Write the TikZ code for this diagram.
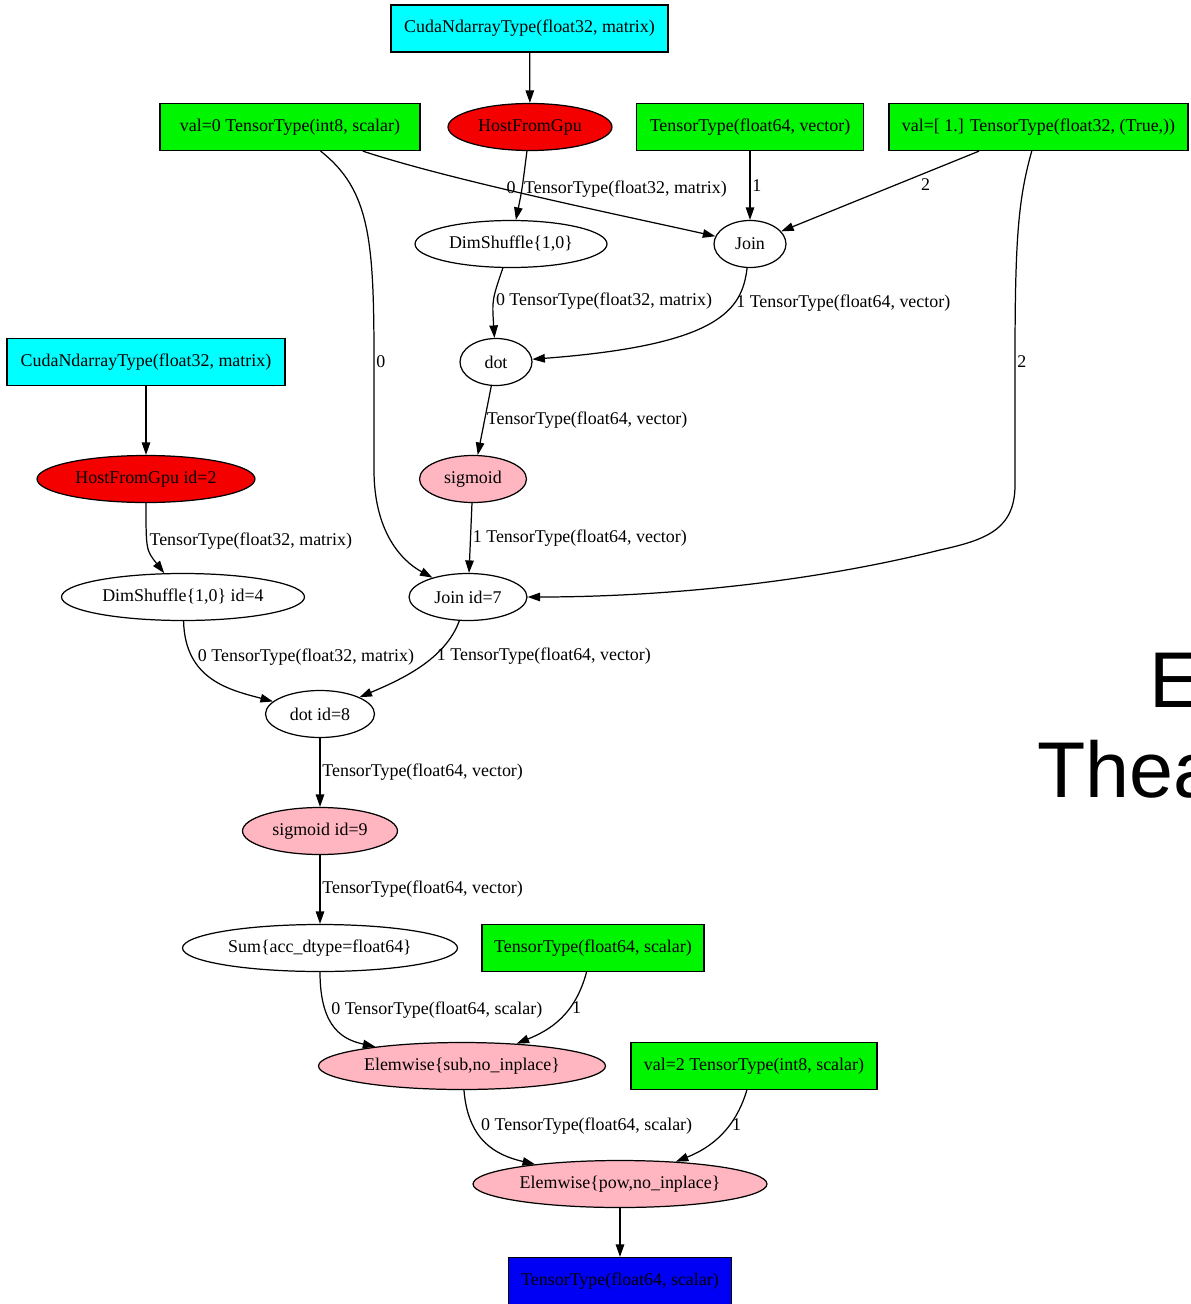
\documentclass[tikz,border=0pt]{standalone}
\usepackage{fontspec}
\setmainfont{Liberation Serif}
\newfontfamily\slidefont{Liberation Sans}
\usepackage{tikz}
\usetikzlibrary{arrows.meta,shapes.geometric}

\definecolor{gvcyan}{RGB}{0,255,255}
\definecolor{gvgreen}{RGB}{0,245,0}
\definecolor{gvred}{RGB}{245,0,0}
\definecolor{gvpink}{RGB}{255,182,193}
\definecolor{gvblue}{RGB}{0,0,245}

\begin{document}
\begin{tikzpicture}[
  x=0.02cm, y=-0.02cm,
  box/.style={draw, rectangle, minimum height=0.94cm, inner sep=0pt},
  op/.style={draw, ellipse, minimum height=0.94cm, inner sep=0pt},
  lbl/.style={inner sep=1pt, anchor=west},
  slide/.style={inner sep=0pt, anchor=base west, font=\slidefont\fontsize{45}{54}\selectfont},
  >={Triangle[length=0.25cm,width=0.17cm]}, line width=0.7pt,
  font=\fontsize{10.2}{12}\selectfont
]
  \useasboundingbox (0,0) rectangle (1190,1304);
  \clip (0,0) rectangle (1190,1304);

  \node[box, fill=gvcyan, minimum width=5.54cm]  (cuda1) at (529.5,28.5) {CudaNdarrayType(float32, matrix)};
  \node[box, fill=gvgreen, minimum width=5.2cm]  (val0)  at (290,127)    {val=0 TensorType(int8, scalar)};
  \node[op, fill=gvred, minimum width=3.28cm]    (hfg1)  at (530,127)    {HostFromGpu};
  \node[box, fill=gvgreen, minimum width=4.54cm] (tvec)  at (750,127)    {TensorType(float64, vector)};
  \node[box, fill=gvgreen, minimum width=5.98cm] (val1)  at (1038.5,127) {val=[ 1.] TensorType(float32, (True,))};
  \node[op, minimum width=3.84cm]                (shuf1) at (511,244)    {DimShuffle\{1,0\}};
  \node[op, minimum width=1.44cm]                (join1) at (750,244)    {Join};
  \node[op, minimum width=1.44cm]                (dot1)  at (496,362)    {dot};
  \node[box, fill=gvcyan, minimum width=5.56cm]  (cuda2) at (146,362)    {CudaNdarrayType(float32, matrix)};
  \node[op, fill=gvred, minimum width=4.36cm]    (hfg2)  at (146,479)    {HostFromGpu id=2};
  \node[op, fill=gvpink, minimum width=2.14cm]   (sig1)  at (473,479)    {sigmoid};
  \node[op, minimum width=4.86cm]                (shuf2) at (183,597)    {DimShuffle\{1,0\} id=4};
  \node[op, minimum width=2.36cm]                (join2) at (468,597)    {Join id=7};
  \node[op, minimum width=2.18cm]                (dot2)  at (320,714)    {dot id=8};
  \node[op, fill=gvpink, minimum width=3.1cm]    (sig2)  at (320,831)    {sigmoid id=9};
  \node[op, minimum width=5.5cm]                 (sum)   at (320,948)    {Sum\{acc\_dtype=float64\}};
  \node[box, fill=gvgreen, minimum width=4.44cm] (tscal) at (593,948)    {TensorType(float64, scalar)};
  \node[op, fill=gvpink, minimum width=5.74cm]   (sub)   at (462,1066)   {Elemwise\{sub,no\_inplace\}};
  \node[box, fill=gvgreen, minimum width=4.92cm] (val2)  at (754,1066)   {val=2 TensorType(int8, scalar)};
  \node[op, fill=gvpink, minimum width=5.88cm]   (pow)   at (620,1184)   {Elemwise\{pow,no\_inplace\}};
  \node[box, fill=gvblue, minimum width=4.46cm]  (out)   at (620,1281)   {TensorType(float64, scalar)};

  \node[slide] (title)    at (1149,707) {E};
  \node[slide] (subtitle) at (1037,797) {Thea};

  \draw[->] (cuda1) -- (hfg1);
  \draw[->] (hfg1) .. controls (522,190) .. (shuf1) node[lbl, pos=0.5] {TensorType(float32, matrix)};
  \draw[->] (val0) .. controls (450,180) and (620,215) .. (join1) node[lbl, pos=0.4, xshift=4pt] {0};
  \draw[->] (tvec) -- (join1) node[lbl, pos=0.5] {1};
  \draw[->] (val1) -- (join1) node[lbl, pos=0.42, xshift=13pt] {2};
  \draw[->] (shuf1) .. controls (492,300) .. (dot1) node[lbl, pos=0.5] {0 TensorType(float32, matrix)};
  \draw[->] (join1) .. controls (742,310) and (720,345) .. (dot1) node[lbl, pos=0.3] {1 TensorType(float64, vector)};
  \draw[->] (dot1) -- (sig1) node[lbl, pos=0.5] {TensorType(float64, vector)};
  \draw[->] (val0) .. controls (370,190) and (374,240) .. (374,362) node[lbl] {0}
    -- (374,470) .. controls (374,530) and (400,560) .. (join2);
  \draw[->] (sig1) -- (join2) node[lbl, pos=0.5] {1 TensorType(float64, vector)};
  \draw[->] (val1) .. controls (1018,200) and (1015,240) .. (1015,362) node[lbl] {2}
    -- (1015,485) .. controls (1015,530) and (985,540) .. (940,550)
    .. controls (800,585) and (650,597) .. (join2);
  \draw[->] (cuda2) -- (hfg2);
  \draw[->] (hfg2) .. controls (146,550) .. (shuf2) node[lbl, pos=0.4] {TensorType(float32, matrix)};
  \draw[->] (shuf2) .. controls (185,680) and (230,690) .. (dot2) node[lbl, pos=0.25, xshift=2pt] {0 TensorType(float32, matrix)};
  \draw[->] (join2) .. controls (445,660) and (400,680) .. (dot2) node[lbl, pos=0.35] {1 TensorType(float64, vector)};
  \draw[->] (dot2) -- (sig2) node[lbl, pos=0.5] {TensorType(float64, vector)};
  \draw[->] (sig2) -- (sum) node[lbl, pos=0.5] {TensorType(float64, vector)};
  \draw[->] (sum) .. controls (320,1030) and (345,1040) .. (sub) node[lbl, pos=0.28, xshift=2pt] {0 TensorType(float64, scalar)};
  \draw[->] (tscal) .. controls (575,1015) and (550,1030) .. (sub) node[lbl, pos=0.35] {1};
  \draw[->] (sub) .. controls (468,1140) and (495,1155) .. (pow) node[lbl, pos=0.3, xshift=3pt] {0 TensorType(float64, scalar)};
  \draw[->] (val2) .. controls (735,1130) and (710,1148) .. (pow) node[lbl, pos=0.35] {1};
  \draw[->] (pow) -- (out);
\end{tikzpicture}
\end{document}
